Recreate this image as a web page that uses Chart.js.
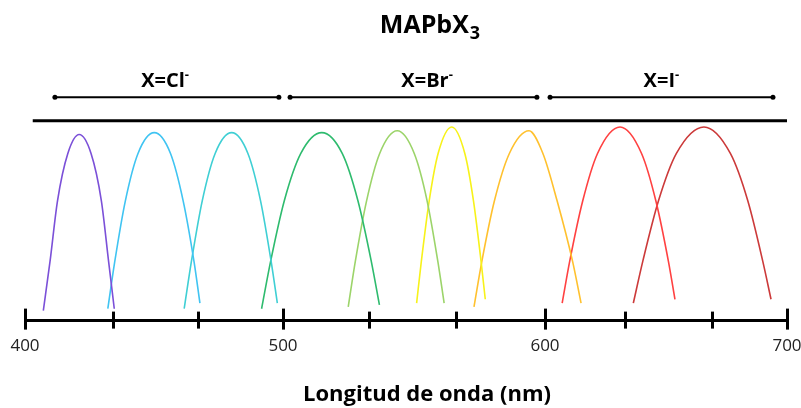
<!DOCTYPE html>
<html>
<head>
<meta charset="utf-8">
<script src="https://cdn.jsdelivr.net/npm/chart.js@4.4.1/dist/chart.umd.min.js"></script>
<style>
html,body{margin:0;padding:0;background:#fff;}
#wrap{width:801px;height:408px;}
</style>
</head>
<body>
<div id="wrap"><canvas id="c" width="801" height="408"></canvas></div>
<script>
// ---------- data ----------
const tickValues = [400, 434, 467, 500, 533, 566, 600, 633, 669, 700];
const majorTicks = [400, 500, 600, 700];

const violetX = [407.1, 409.7, 412.6, 416.6, 421.0, 425.6, 429.6, 432.4, 434.6];
const violetY = [0.05, 0.31, 0.63, 0.88, 0.98, 0.88, 0.63, 0.31, 0.06];
const blueX = [432.1, 434.8, 438.9, 443.8, 450.1, 456.4, 461.3, 465.5, 467.8];
const blueY = [0.06, 0.31, 0.63, 0.88, 0.99, 0.88, 0.63, 0.31, 0.09];
const turquoiseX = [461.7, 464.5, 468.7, 473.7, 480.1, 486.4, 491.3, 495.4, 497.8];
const turquoiseY = [0.06, 0.31, 0.63, 0.88, 0.99, 0.88, 0.63, 0.31, 0.09];
const greenX = [491.7, 495.2, 500.5, 506.8, 514.8, 522.6, 528.6, 533.7, 536.8];
const greenY = [0.06, 0.31, 0.63, 0.88, 0.99, 0.88, 0.63, 0.31, 0.08];
const lightGreenX = [524.9, 527.6, 531.9, 536.9, 543.6, 550.1, 555.0, 559.1, 561.5];
const lightGreenY = [0.07, 0.31, 0.63, 0.88, 1.00, 0.88, 0.63, 0.31, 0.09];
const yellowX = [551.0, 552.8, 555.8, 559.2, 564.4, 569.4, 572.7, 575.6, 577.2];
const yellowY = [0.09, 0.31, 0.63, 0.88, 1.02, 0.88, 0.63, 0.31, 0.11];
const amberX = [572.9, 575.9, 580.7, 586.4, 593.9, 599.2, 605.0, 611.4, 614.9];
const amberY = [0.07, 0.31, 0.63, 0.88, 1.00, 0.88, 0.63, 0.31, 0.09];
const redX = [607.1, 610.2, 615.6, 621.7, 631.0, 639.9, 645.8, 651.0, 653.7];
const redY = [0.09, 0.31, 0.63, 0.88, 1.02, 0.88, 0.63, 0.31, 0.11];
const darkRedX = [636.5, 640.4, 646.9, 654.3, 665.7, 676.6, 683.8, 690.0, 693.4];
const darkRedY = [0.09, 0.31, 0.63, 0.88, 1.02, 0.88, 0.63, 0.31, 0.11];

const topLineX = [403, 700];
const topLineY = [1.053, 1.053];
const bracketClX = [411.6, 498.4];
const bracketBrX = [502.7, 596.9];
const bracketIX = [602.1, 694.2];
const bracketY = [1.177, 1.177];

const groupLabels = ['X=Cl', 'X=Br', 'X=I'];
const groupLabelX = [454.3, 555.0, 648.1];
const groupLabelY = 1.23;
const titleMain = 'MAPbX';
const titleSub = '3';
const xTitle = 'Longitud de onda (nm)';

// ---------- piecewise x scale (axis as drawn in the figure) ----------
const knotValues = [400, 500, 600, 700];
const knotFractions = [0, 258 / 762, 520 / 762, 1];
function toFrac(v) {
  const n = knotValues.length;
  for (let i = 0; i < n - 1; i++) {
    if (v <= knotValues[i + 1] || i === n - 2) {
      const t = (v - knotValues[i]) / (knotValues[i + 1] - knotValues[i]);
      return knotFractions[i] + t * (knotFractions[i + 1] - knotFractions[i]);
    }
  }
}
function fromFrac(f) {
  const n = knotFractions.length;
  for (let i = 0; i < n - 1; i++) {
    if (f <= knotFractions[i + 1] || i === n - 2) {
      const t = (f - knotFractions[i]) / (knotFractions[i + 1] - knotFractions[i]);
      return knotValues[i] + t * (knotValues[i + 1] - knotValues[i]);
    }
  }
}
class PiecewiseScale extends Chart.LinearScale {
  getPixelForValue(value) {
    if (value === null || value === undefined || Number.isNaN(+value)) return NaN;
    return this.getPixelForDecimal(toFrac(+value));
  }
  getValueForPixel(pixel) {
    return fromFrac(this.getDecimalForPixel(pixel));
  }
}
PiecewiseScale.id = 'piecewise';
PiecewiseScale.defaults = Chart.LinearScale.defaults;
Chart.register(PiecewiseScale);

// ---------- helpers ----------
const pts = (xs, ys) => xs.map((v, i) => ({x: v, y: ys[i]}));
function curve(label, xs, ys, color) {
  return {
    label, data: pts(xs, ys), borderColor: color, borderWidth: 1.6,
    pointRadius: 0, fill: false, cubicInterpolationMode: 'monotone'
  };
}
function rule(label, xs, ys, width, radius) {
  return {
    label, data: pts(xs, ys), borderColor: '#000', backgroundColor: '#000',
    borderWidth: width, pointRadius: radius, pointHoverRadius: radius,
    pointBackgroundColor: '#000', pointBorderWidth: 0, fill: false, tension: 0
  };
}

const decor = {
  id: 'decor',
  afterDraw(chart) {
    const {ctx, scales: {x, y}} = chart;
    ctx.save();
    // tick marks crossing the axis line
    ctx.strokeStyle = '#000';
    ctx.lineWidth = 3;
    const base = x.top;
    x.ticks.forEach((t, i) => {
      const px = Math.round(x.getPixelForTick(i)) + 0.5;
      const major = majorTicks.includes(t.value);
      ctx.beginPath();
      ctx.moveTo(px, base - (major ? 11.5 : 8.5));
      ctx.lineTo(px, base + (major ? 9.5 : 8.5));
      ctx.stroke();
    });
    ctx.fillStyle = '#000';
    ctx.textBaseline = 'alphabetic';
    ctx.textAlign = 'left';
    // main title with subscript
    const fMain = 'bold 25px "Open Sans"';
    const fSub = 'bold 18px "Open Sans"';
    ctx.font = fMain; const w1 = ctx.measureText(titleMain).width;
    ctx.font = fSub; const w2 = ctx.measureText(titleSub).width;
    let sx = 430 - (w1 + w2 + 1) / 2;
    ctx.font = fMain; ctx.fillText(titleMain, sx, 33);
    ctx.font = fSub; ctx.fillText(titleSub, sx + w1 + 1, 38.5);
    // group labels with superscript minus
    const fG = 'bold 20px "Open Sans"';
    const fSup = 'bold 13px "Open Sans"';
    const ly = y.getPixelForValue(groupLabelY);
    groupLabels.forEach((txt, i) => {
      ctx.font = fG; const wa = ctx.measureText(txt).width;
      ctx.font = fSup; const wb = ctx.measureText('-').width;
      const cx = x.getPixelForValue(groupLabelX[i]);
      const gx = cx - (wa + wb) / 2;
      ctx.font = fG; ctx.fillText(txt, gx, ly);
      ctx.font = fSup; ctx.fillText('-', gx + wa, ly - 8);
    });
    // x axis title
    ctx.font = 'bold 22px "Open Sans"';
    ctx.textAlign = 'center';
    ctx.fillText(xTitle, 427, 401);
    ctx.restore();
  }
};

new Chart(document.getElementById('c'), {
  type: 'line',
  data: {
    datasets: [
      curve('violet', violetX, violetY, '#7B50D8'),
      curve('blue', blueX, blueY, '#40C4F2'),
      curve('turquoise', turquoiseX, turquoiseY, '#3FCFD4'),
      curve('green', greenX, greenY, '#2EBB6E'),
      curve('lightgreen', lightGreenX, lightGreenY, '#9CD46A'),
      curve('yellow', yellowX, yellowY, '#F7F21A'),
      curve('amber', amberX, amberY, '#FFC12E'),
      curve('red', redX, redY, '#FF4141'),
      curve('darkred', darkRedX, darkRedY, '#CC3A3A'),
      rule('top', topLineX, topLineY, 3, 0),
      rule('Cl', bracketClX, bracketY, 2, 2.5),
      rule('Br', bracketBrX, bracketY, 2, 2.5),
      rule('I', bracketIX, bracketY, 2, 2.5)
    ]
  },
  options: {
    responsive: false,
    animation: false,
    devicePixelRatio: 1,
    layout: {padding: {left: 25, right: 14, top: 55, bottom: 35.5}},
    plugins: {legend: {display: false}, tooltip: {enabled: false}, title: {display: false}},
    events: [],
    scales: {
      x: {
        type: 'piecewise', position: 'bottom', min: 400, max: 700,
        afterBuildTicks: (axis) => { axis.ticks = tickValues.map(v => ({value: v})); },
        afterFit: (axis) => { axis.paddingLeft = 0; axis.paddingRight = 0; },
        ticks: {
          autoSkip: false, maxRotation: 0, padding: 16, color: '#222',
          font: {family: '"Open Sans"', size: 17},
          callback: (v) => majorTicks.includes(v) ? String(v) : ''
        },
        grid: {display: true, drawOnChartArea: false, drawTicks: false},
        border: {display: true, color: '#000', width: 3}
      },
      y: {type: 'linear', min: 0, max: 1.4, display: false}
    }
  },
  plugins: [decor]
});
</script>
</body>
</html>
